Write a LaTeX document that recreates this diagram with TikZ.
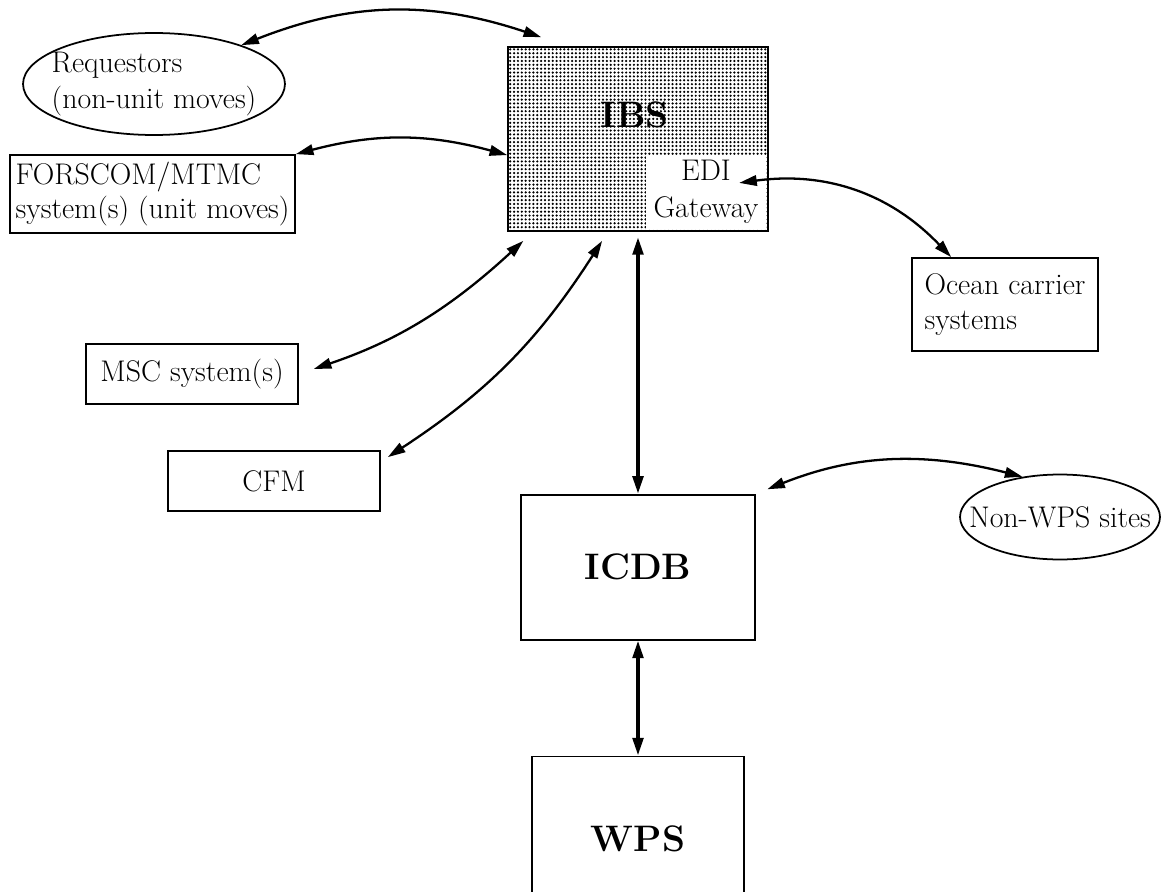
\documentclass[tikz,border=0pt]{standalone}
\usepackage{tikz}
\usetikzlibrary{arrows.meta,positioning,shapes.geometric,patterns.meta}

\begin{document}
\begin{tikzpicture}[
  x=0.02cm, y=-0.02cm,
  box/.style={draw, line width=1pt, inner sep=0pt,
              font=\fontsize{17}{19.5}\selectfont},
  oval/.style={draw, ellipse, line width=1pt, inner sep=0pt},
  ovaltext/.style={font=\fontsize{17}{20}\selectfont, align=left},
  big/.style={font=\fontsize{21}{25}\selectfont\bfseries},
  arr/.style={{Triangle[length=10pt,width=6pt]}-{Triangle[length=10pt,width=6pt]},
              line width=1.3pt},
  varr/.style={arr, line width=2pt}
]
  \useasboundingbox (0,0) rectangle (1163,892);

  % IBS with its EDI gateway
  \node[box, pattern={Dots[distance=2.2pt, radius=0.7pt]},
    minimum width=5.2cm, minimum height=3.68cm] (ibs) at (638,139) {};
  \node[big] (ibslabel) at (635,115) {IBS};
  \node[fill=white, inner sep=0pt, minimum width=2.4cm, minimum height=1.48cm,
    font=\fontsize{17}{21}\selectfont, align=center, anchor=south east]
    (edi) at ([xshift=-1.5pt, yshift=1.5pt]ibs.south east) {EDI\\Gateway};

  % systems on the left
  \node[oval, minimum width=5.24cm, minimum height=2.04cm,
    label={[ovaltext]center:Requestors\\(non-unit moves)}] (req) at (154,84) {};
  \node[box, minimum width=5.7cm, minimum height=1.56cm, align=left]
    (forscom) at (152.5,194) {FORSCOM/MTMC\\system(s) (unit moves)};
  \node[box, minimum width=4.24cm, minimum height=1.2cm] (msc) at (192,374) {MSC system(s)};
  \node[box, minimum width=4.24cm, minimum height=1.2cm] (cfm) at (274,481) {CFM};

  % right side
  \node[box, minimum width=3.72cm, minimum height=1.86cm, align=left]
    (ocean) at (1005,304.5) {Ocean carrier\\systems};
  \node[oval, minimum width=4.0cm, minimum height=1.7cm,
    label={[ovaltext]center:Non-WPS sites}] (nonwps) at (1060,517) {};

  % databases
  \node[box, big, minimum width=4.68cm, minimum height=2.9cm, below=5.24cm of ibs] (icdb) {ICDB};
  \node[box, big, minimum width=4.24cm, minimum height=3.28cm, below=2.3cm of icdb] (wps) {WPS};

  \draw[arr] (req.24) to[bend left=20] ([xshift=0.68cm, yshift=0.18cm]ibs.north west);
  \draw[arr] (forscom.north east) to[bend left=15] (ibs.187);
  \draw[arr, shorten <=9pt] (msc.east) to[bend right=12] ([yshift=-0.18cm]ibs.219);
  \draw[arr] ([xshift=0.14cm, yshift=-0.14cm]cfm.north east) to[bend right=12]
    ([xshift=1.9cm, yshift=-0.18cm]ibs.south west);
  \draw[arr] ([xshift=-0.54cm, yshift=0.18cm]edi.east) to[bend left=27]
    ([xshift=0.8cm]ocean.north west);
  \draw[varr, shorten <=3pt] (ibs.south) -- (icdb.north);
  \draw[varr] (icdb.south) -- (wps.north);
  \draw[arr, shorten <=7pt] (icdb.north east) to[bend left=18] (nonwps.133);
\end{tikzpicture}
\end{document}
